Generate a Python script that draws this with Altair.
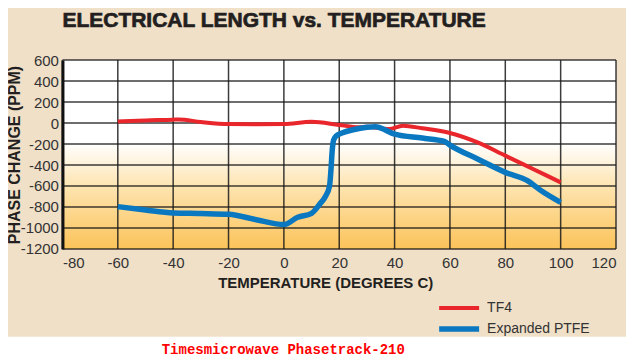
import altair as alt
import pandas as pd

# ---- data ----
tf4_temp = [-60, -50, -40, -38, -30, -20, -10, 0, 10, 20, 27, 30, 38, 43, 50, 60, 70, 80, 90, 100]
tf4_ppm = [15, 25, 32, 34, 10, -10, -12, -10, 12, -18, -40, -35, -57, -26, -50, -95, -185, -311, -438, -565]

ptfe_temp = [-60, -50, -40, -30, -20, -10, 0, 5, 10, 13, 15, 16.5, 17, 17.5, 18, 19, 21, 25, 30, 33,
             40, 50, 58, 60, 70, 80, 88, 93, 100]
ptfe_ppm = [-797, -829, -857, -862, -870, -921, -968, -898, -860, -771, -700, -600, -450, -250, -160,
            -120, -95, -64, -40, -35, -105, -143, -175, -210, -343, -470, -549, -645, -756]

series_names = ["TF4", "Expanded PTFE"]
series_colors = ["#e8262b", "#0a77c1"]
series_widths = [4, 5.5]

x_ticks = [-80, -60, -40, -20, 0, 20, 40, 60, 80, 100, 120]
y_ticks = [-1200, -1000, -800, -600, -400, -200, 0, 200, 400, 600]

title_text = "ELECTRICAL LENGTH vs. TEMPERATURE"
x_title = "TEMPERATURE (DEGREES C)"
y_title = "PHASE CHANGE (PPM)"
caption = "Timesmicrowave Phasetrack-210"

# ---- tables ----
lines_df = pd.concat([
    pd.DataFrame({"temp": tf4_temp, "ppm": tf4_ppm, "series": series_names[0], "order": range(len(tf4_temp))}),
    pd.DataFrame({"temp": ptfe_temp, "ppm": ptfe_ppm, "series": series_names[1], "order": range(len(ptfe_temp))}),
])
xgrid_df = pd.DataFrame({"v": x_ticks})
ygrid_df = pd.DataFrame({"v": y_ticks})
cap_df = pd.DataFrame({"t": [caption]})
title_df = pd.DataFrame({"t": [title_text]})

W, H = 554, 189
xscale = alt.Scale(domain=[-80, 120], nice=False, zero=False)
yscale = alt.Scale(domain=[-1200, 600], nice=False, zero=False)
FONT = "Liberation Sans"

x_axis = alt.Axis(
    values=x_ticks, title=x_title, grid=False, domain=False, ticks=False,
    labelExpr="'' + datum.value",
    labelPadding=7, labelFontSize=15, labelColor="#333333", labelFont=FONT,
    titleFont=FONT, titleFontSize=15, titleFontWeight="bold", titleColor="#231f20",
    titleX=263, titleY=34, titleBaseline="middle", titleAlign="center", zindex=1)
y_axis = alt.Axis(
    values=y_ticks, title=y_title, grid=False, domain=True, domainColor="#111111",
    domainWidth=3, ticks=False, labelPadding=4, labelFontSize=15,
    labelExpr="'' + datum.value",
    labelColor="#333333", labelFont=FONT,
    titleFont=FONT, titleFontSize=16, titleFontWeight="bold", titleColor="#231f20",
    titleAngle=270, titleX=-48, titleY=H / 2, titleBaseline="middle", titleAlign="center",
    zindex=1)

bg = alt.Chart(cap_df).mark_rect(
    fill=alt.LinearGradient(
        gradient="linear",
        stops=[
            alt.GradientStop(color="#ffffff", offset=0),
            alt.GradientStop(color="#ffffff", offset=0.44),
            alt.GradientStop(color="#fde3ad", offset=0.68),
            alt.GradientStop(color="#fbc35a", offset=1),
        ],
        x1=0, x2=0, y1=0, y2=1,
    )
).encode(x=alt.value(0), x2=alt.value(W), y=alt.value(0), y2=alt.value(H))

strip = alt.Chart(cap_df).mark_rect(fill="#ffffff").encode(
    x=alt.value(-70), x2=alt.value(W + 20), y=alt.value(277), y2=alt.value(300)
)

vgrid = alt.Chart(xgrid_df).mark_rule(color="#1a1a1a", opacity=0.85, strokeWidth=1.5).encode(
    x=alt.X("v:Q", scale=xscale, axis=x_axis)
)
hgrid = alt.Chart(ygrid_df).mark_rule(color="#1a1a1a", opacity=0.85, strokeWidth=1.5).encode(
    y=alt.Y("v:Q", scale=yscale, axis=y_axis)
)

lines = alt.Chart(lines_df).mark_line(interpolate="monotone", strokeCap="butt").encode(
    x=alt.X("temp:Q", scale=xscale, axis=x_axis),
    y=alt.Y("ppm:Q", scale=yscale, axis=y_axis),
    color=alt.Color("series:N", scale=alt.Scale(domain=series_names, range=series_colors),
                    legend=alt.Legend(title=None, orient="none", legendX=389, legendY=241,
                                      symbolType="M-4,0H4", symbolSize=100, symbolStrokeWidth=5,
                                      labelFontSize=14, labelFont=FONT, labelColor="#333333",
                                      padding=0, rowPadding=2, labelOffset=20)),
    strokeWidth=alt.StrokeWidth("series:N", scale=alt.Scale(domain=series_names, range=series_widths),
                                legend=None),
    order="order:Q",
)

title = alt.Chart(title_df).mark_text(
    font=FONT, fontWeight="bold", fontSize=21, color="#231f20", align="left", baseline="alphabetic",
    stroke="#231f20", strokeWidth=0.7
).encode(text="t:N", x=alt.value(0), y=alt.value(-33))

cap = alt.Chart(cap_df).mark_text(
    font="Liberation Mono", fontWeight="bold", fontSize=14, color="#ff0000", align="center",
    baseline="middle"
).encode(text="t:N", x=alt.value(221), y=alt.value(290))

chart = alt.layer(bg, strip, vgrid, hgrid, lines, title, cap).properties(
    width=W, height=H,
    autosize=alt.AutoSizeParams(type="none"),
    padding={"left": 54.5, "top": 52, "right": 10, "bottom": 107},
    background="#f0e0c8",
).configure_view(stroke=None)

chart.save("out.html", embed_options={"renderer": "svg", "actions": False})
